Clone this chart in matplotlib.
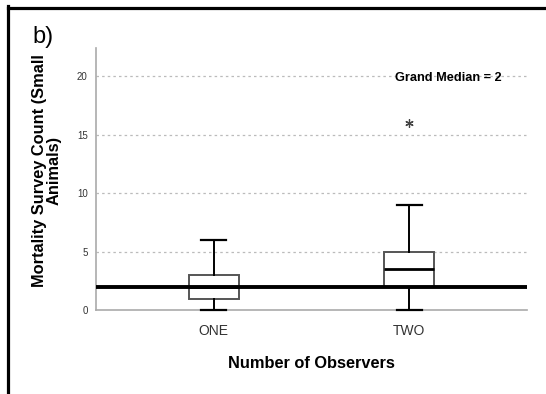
import matplotlib
matplotlib.use("Agg")
import matplotlib.pyplot as plt
from matplotlib.lines import Line2D

plt.rcParams['font.family'] = ['Liberation Sans', 'DejaVu Sans']

# data
groups = ["ONE", "TWO"]
whisker_low = [0, 0]
q1 = [1, 2]
medians = [2, 3.5]
q3 = [3, 5]
whisker_high = [6, 9]
outliers = [[], [16]]
grand_median = 2
y_ticks = [0, 5, 10, 15, 20]

stats = []
for i in range(len(groups)):
    stats.append({"label": groups[i], "whislo": whisker_low[i], "q1": q1[i],
                  "med": medians[i], "q3": q3[i], "whishi": whisker_high[i],
                  "fliers": outliers[i]})

fig = plt.figure(figsize=(5.46, 3.94), dpi=100)
ax = fig.add_axes([0.176, 0.212, 0.789, 0.666])

ax.bxp(stats, positions=[1, 2], widths=0.255, showfliers=True, patch_artist=True,
       boxprops=dict(facecolor="white", edgecolor="#555555", linewidth=1.4),
       whiskerprops=dict(color="black", linewidth=1.4, zorder=3),
       capprops=dict(color="black", linewidth=1.6, zorder=3, clip_on=False),
       capwidths=0.13,
       medianprops=dict(color="black", linewidth=2.0),
       flierprops=dict(marker=(6, 2, 0), markersize=6, markeredgecolor="#444444",
                       markeredgewidth=0.9, linestyle="none"))

# grand median reference line
ax.axhline(grand_median, color="black", linewidth=2.8, zorder=5)
ax.text(0.942, 0.885, "Grand Median = %d" % grand_median, transform=ax.transAxes,
        ha="right", va="center", fontsize=9.2, fontweight="bold", zorder=6)

ax.set_xlim(0.4, 2.6)
ax.set_ylim(0, 22.4)
ax.set_yticks(y_ticks)
ax.tick_params(axis="y", length=0, labelsize=7, labelcolor="#333333", pad=6)
ax.tick_params(axis="x", length=0, labelsize=10, labelcolor="#333333", pad=10)

for y in y_ticks[1:]:
    ax.axhline(y, color="#bbbbbb", linestyle=(0, (2, 2.5)), linewidth=0.9, zorder=0)

for s in ["top", "right"]:
    ax.spines[s].set_visible(False)
ax.spines["left"].set_color("#aaaaaa")
ax.spines["bottom"].set_color("#aaaaaa")
ax.spines["left"].set_linewidth(1.2)
ax.spines["bottom"].set_linewidth(1.2)

ax.set_xlabel("Number of Observers", fontsize=11.8, fontweight="bold", labelpad=13)
ax.set_ylabel("Mortality Survey Count (Small\nAnimals)", fontsize=11.8,
              fontweight="bold", linespacing=0.95, labelpad=11)
ax.yaxis.label.set_y(0.535)

fig.text(0.06, 0.89, "b)", fontsize=17)

# frame lines of the panel
fig.add_artist(Line2D([8 / 546, 1.0], [1 - 7.5 / 394, 1 - 7.5 / 394], color="black", linewidth=2.3))
fig.add_artist(Line2D([8 / 546, 8 / 546], [0, 1 - 6 / 394], color="black", linewidth=2.3))

fig.savefig("out.png", dpi=100)
